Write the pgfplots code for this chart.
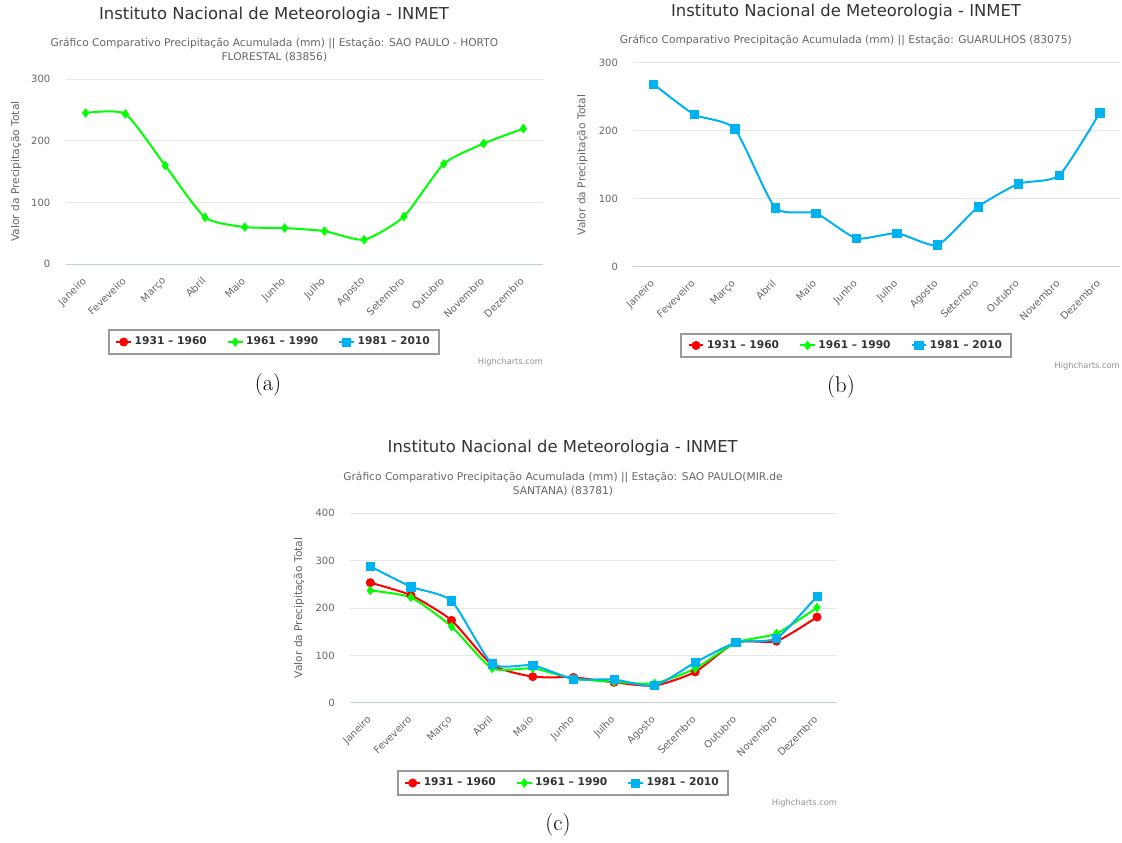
\documentclass[border=0pt]{standalone}
\usepackage{fontspec}
\usepackage{pgfplots}
\pgfplotsset{compat=1.18}
\newfontfamily\hc{DejaVu Sans}
\definecolor{hcred}{HTML}{FF0000}
\definecolor{hcgreen}{HTML}{00FF00}
\definecolor{hcblue}{HTML}{00B2F0}
\definecolor{hctitle}{HTML}{333333}
\definecolor{hcsub}{HTML}{666666}
\definecolor{hcgrid}{HTML}{E6E6E6}
\definecolor{hcaxisc}{HTML}{C0D0E0}
\definecolor{hclegend}{HTML}{999999}
\definecolor{hccredit}{HTML}{909090}
\pgfplotsset{
  hcaxis/.style={
    scale only axis, anchor=south west,
    xmin=-0.5, xmax=11.5, ymin=0,
    xtick={0,...,11},
    xticklabels={Janeiro,Feveveiro,Março,Abril,Maio,Junho,Julho,Agosto,Setembro,Outubro,Novembro,Dezembro},
    axis x line*=bottom, axis y line*=left,
    x axis line style={draw=hcaxisc, line width=0.75pt, -},
    y axis line style={draw=none},
    major tick length=0pt,
    ymajorgrids, major grid style={draw=hcgrid, line width=0.75pt},
    tick label style={font=\hc\fontsize{7.5}{9}\selectfont, text=hcsub},
    /pgf/number format/assume math mode=true,
    xticklabel style={rotate=45, anchor=north east, inner sep=1pt, yshift=-3.2pt, xshift=-7.6pt},
    yticklabel style={xshift=-8pt},
    legend columns=3,
    legend cell align=left,
    legend style={draw=hclegend, line width=1.5pt, fill=white,
      font=\hc\bfseries\fontsize{8}{9.6}\selectfont, text=hctitle,
      anchor=center, inner xsep=5pt, inner ysep=3pt,
      /tikz/every even column/.append style={column sep=13pt}},
    legend image code/.code={\draw[mark repeat=2,mark phase=2,#1] plot coordinates {(0pt,0pt) (5.5pt,0pt) (11pt,0pt)};},
  },
  sred/.style={color=hcred, line width=1.5pt, mark=*, mark size=3.1pt, mark options={solid, line width=0.5pt}, smooth, /tikz/tension=0.35},
  sgreen/.style={color=hcgreen, line width=1.5pt, mark=diamond*, mark size=3.2pt, mark options={solid, line width=0.5pt}, smooth, /tikz/tension=0.35},
  sblue/.style={color=hcblue, line width=1.5pt, mark=square*, mark size=3.1pt, mark options={solid, line width=0.5pt}, smooth, /tikz/tension=0.35},
}
\begin{document}
\begin{tikzpicture}
% (a)
\begin{axis}[hcaxis, at={(49.28pt,-198pt)}, width=358.2pt, height=138.5pt,
  ymax=300, ytick={0,100,200,300},
  legend style={at={(0.436,-0.4223)}}]
\addlegendimage{sred}
\addplot[sgreen] coordinates {(0,245.4) (1,243.8) (2,160) (3,75.7) (4,60) (5,58.4) (6,53.5) (7,39.5) (8,77.3) (9,162.7) (10,195.7) (11,220)};
\addlegendimage{sblue}
\legend{1931 – 1960, 1961 – 1990, 1981 – 2010}
\end{axis}
% (b)
\begin{axis}[hcaxis, at={(474.98pt,-200.03pt)}, width=365pt, height=153pt,
  ymax=300, ytick={0,100,200,300},
  legend style={at={(0.4375,-0.386)}}]
\addlegendimage{sred}
\addlegendimage{sgreen}
\addplot[sblue] coordinates {(0,268.6) (1,223.8) (2,202.7) (3,86.6) (4,78.7) (5,41.8) (6,49.2) (7,32) (8,88) (9,122) (10,134.3) (11,226.3)};
\legend{1931 – 1960, 1961 – 1990, 1981 – 2010}
\end{axis}
% (c)
\begin{axis}[hcaxis, at={(262.5pt,-527.03pt)}, width=365.5pt, height=142.05pt,
  ymax=400, ytick={0,100,200,300,400},
  legend style={at={(0.437,-0.424)}}]
\addplot[sred] coordinates {(0,253.5) (1,227) (2,174) (3,80) (4,55) (5,53.5) (6,43) (7,36) (8,65) (9,127.5) (10,130) (11,181)};
\addplot[sgreen] coordinates {(0,237) (1,222.5) (2,161) (3,72.5) (4,72.5) (5,51) (6,44) (7,41) (8,72) (9,127) (10,146) (11,201)};
\addplot[sblue] coordinates {(0,288) (1,245) (2,215) (3,82) (4,79) (5,50) (6,49) (7,36) (8,85) (9,127) (10,136) (11,225)};
\legend{1931 – 1960, 1961 – 1990, 1981 – 2010}
\end{axis}
\begin{scope}[x=0.75pt, y=-0.75pt]
\path[use as bounding box] (0,0) rectangle (1122,843);
\tikzset{myttl/.style={font=\hc\fontsize{12.3}{15}\selectfont, text=hctitle},
  mysub/.style={font=\hc\fontsize{8}{10.5}\selectfont, text=hcsub, align=center},
  myylab/.style={font=\hc\fontsize{8}{9.6}\selectfont, text=hcsub, rotate=90},
  mycred/.style={font=\hc\fontsize{6.2}{7}\selectfont, text=hccredit, anchor=east, inner sep=0pt},
  mycap/.style={font=\fontsize{17}{20}\selectfont}}
% (a)
\node[myttl] at (274,15) {Instituto Nacional de Meteorologia - INMET};
\node[mysub] at (274.4,50.3) {Gráfico Comparativo Precipitação Acumulada (mm) || Estação: SAO PAULO - HORTO\\FLORESTAL (83856)};
\node[myylab] at (16,171.7) {Valor da Precipitação Total};
\node[mycred] at (543.3,362) {Highcharts.com};
\node[mycap] at (268,385) {(a)};
% (b)
\node[myttl] at (846,12) {Instituto Nacional de Meteorologia - INMET};
\node[mysub] at (845.8,40) {Gráfico Comparativo Precipitação Acumulada (mm) || Estação: GUARULHOS (83075)};
\node[myylab] at (582.4,165) {Valor da Precipitação Total};
\node[mycred] at (1120,366) {Highcharts.com};
\node[mycap] at (841,387) {(b)};
% (c)
\node[myttl] at (562.7,448) {Instituto Nacional de Meteorologia - INMET};
\node[mysub] at (563,483.8) {Gráfico Comparativo Precipitação Acumulada (mm) || Estação: SAO PAULO(MIR.de\\SANTANA) (83781)};
\node[myylab] at (299,608) {Valor da Precipitação Total};
\node[mycred] at (837.3,803) {Highcharts.com};
\node[mycap] at (558,825) {(c)};
\end{scope}
\end{tikzpicture}
\end{document}
